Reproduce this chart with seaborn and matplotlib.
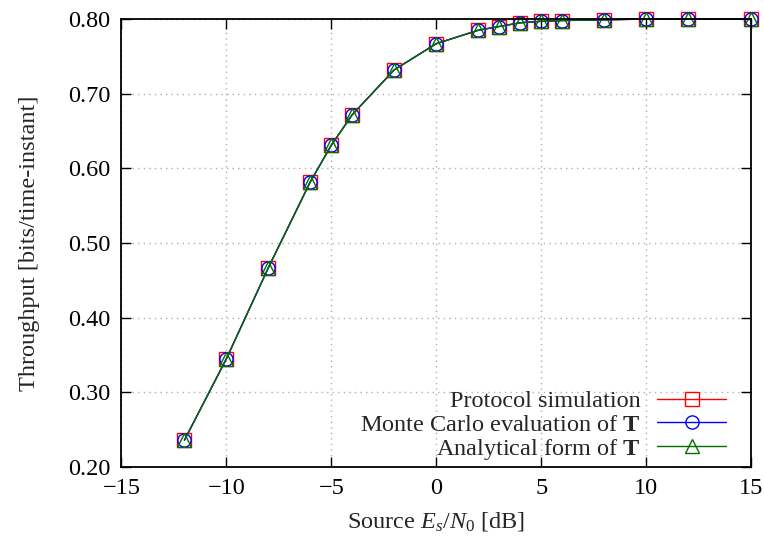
import matplotlib
matplotlib.use("Agg")
import matplotlib.pyplot as plt
import seaborn as sns
import pandas as pd

snr_db = [-12, -10, -8, -6, -5, -4, -2, 0, 2, 3, 4, 5, 6, 8, 10, 12, 15]
protocol_sim = [0.236, 0.345, 0.467, 0.582, 0.631, 0.672, 0.732, 0.767, 0.785, 0.790, 0.795, 0.797, 0.798, 0.799, 0.800, 0.800, 0.800]
monte_carlo = [0.236, 0.345, 0.467, 0.582, 0.631, 0.672, 0.732, 0.767, 0.785, 0.790, 0.795, 0.797, 0.798, 0.799, 0.800, 0.800, 0.800]
analytical = [0.236, 0.345, 0.467, 0.582, 0.631, 0.672, 0.732, 0.767, 0.785, 0.790, 0.795, 0.797, 0.798, 0.799, 0.800, 0.800, 0.800]
labels = ["Protocol simulation", r"Monte Carlo evaluation of $\mathbf{T}$", r"Analytical form of $\mathbf{T}$"]
xticks = [-15, -10, -5, 0, 5, 10, 15]
yticks = [0.2, 0.3, 0.4, 0.5, 0.6, 0.7, 0.8]

sns.set_theme(style="ticks")
plt.rcParams['font.family'] = ['Liberation Serif', 'DejaVu Serif']
plt.rcParams['mathtext.fontset'] = 'custom'
plt.rcParams['mathtext.rm'] = 'Liberation Serif'
plt.rcParams['mathtext.it'] = 'Liberation Serif:italic'
plt.rcParams['mathtext.bf'] = 'Liberation Serif:bold'

fs = 17.5
fig, ax = plt.subplots(figsize=(7.64, 5.44), dpi=100)
fig.subplots_adjust(left=0.159, right=0.983, top=0.965, bottom=0.1415)

series = [(protocol_sim, "s", "#ff0000", 10), (monte_carlo, "o", "#0000ff", 9.5), (analytical, "^", "#007000", 9.5)]
for (vals, mk, col, ms), lab in zip(series, labels):
    df = pd.DataFrame({"x": snr_db, "y": vals})
    sns.lineplot(data=df, x="x", y="y", ax=ax, color=col, marker=mk, markersize=ms,
                 markerfacecolor="none", markeredgecolor=col, markeredgewidth=1.0,
                 linewidth=1.0, label=lab, clip_on=False)

ax.set_xlim(-15, 15)
ax.set_ylim(0.2, 0.8)
ax.set_xticks(xticks)
ax.set_yticks(yticks)
ax.set_yticklabels([f"{v:.2f}" for v in yticks])
ax.set_xticklabels([str(v).replace("-", "\u2212") for v in xticks])
ax.tick_params(direction="in", length=7, width=1, top=True, right=True, labelsize=fs, pad=8, colors="black")
ax.grid(True, linestyle=(0, (1, 3)), color="#b0b0b0", linewidth=1.0)
for sp in ax.spines.values():
    sp.set_linewidth(1.3)
    sp.set_color("black")
ax.set_xlabel(r"Source $E_s/N_0$ [dB]", fontsize=fs, labelpad=8)
ax.set_ylabel("Throughput [bits/time-instant]", fontsize=fs, labelpad=20)

leg = ax.legend(loc="lower right", bbox_to_anchor=(0.975, -0.01), frameon=False, markerfirst=False,
                fontsize=fs, handlelength=2.8, handletextpad=0.7, labelspacing=0.05,
                borderaxespad=0.0)
for col in leg._legend_handle_box.get_children():
    col.align = "right"

fig.savefig("out.png", dpi=100)
